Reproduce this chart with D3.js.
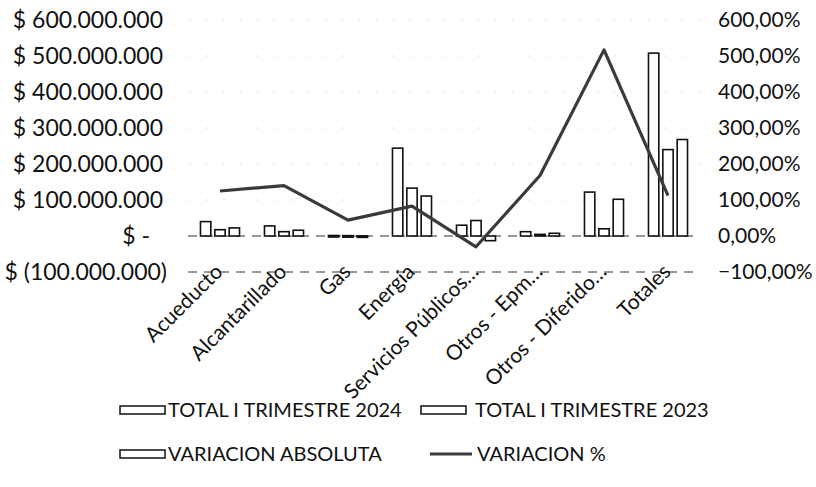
<!DOCTYPE html>
<html>
<head>
<meta charset="utf-8">
<script src="https://cdn.jsdelivr.net/npm/d3@7"></script>
<style>
  body { margin: 0; background: #fff; }
  text { font-family: Lato, "Open Sans", sans-serif; fill: #111; }
</style>
</head>
<body>
<svg id="chart" width="816" height="487"></svg>
<script>
// values (pesos in millions, variation as fraction)
const categories = ["Acueducto", "Alcantarillado", "Gas", "Energía", "Servicios Públicos…", "Otros - Epm…", "Otros - Diferido…", "Totales"];
const total2024 = [40, 28, 1.4, 244, 30, 12, 122, 508];
const total2023 = [17.5, 12, 1.0, 133, 43, 4.5, 20, 240];
const variacionAbs = [22.5, 16, 0.4, 111, -13, 7.5, 102, 268];
const variacionPct = [1.25, 1.40, 0.44, 0.83, -0.30, 1.68, 5.17, 1.12];
const leftTicks = [-100, 0, 100, 200, 300, 400, 500, 600];
const rightTicks = [-1, 0, 1, 2, 3, 4, 5, 6];
const barSeries = ["TOTAL I TRIMESTRE 2024", "TOTAL I TRIMESTRE 2023", "VARIACION ABSOLUTA"];
const lineSeries = "VARIACION %";

const svg = d3.select("#chart");

const x = d3.scaleBand()
    .domain(categories)
    .range([188, 700])
    .paddingInner(0.39)
    .paddingOuter(0.195);

const xs = d3.scaleBand()
    .domain(barSeries)
    .range([0, x.bandwidth()])
    .paddingInner(0.28);

const yL = d3.scaleLinear().domain([-100, 600]).range([272, 20]);
const yR = d3.scaleLinear().domain([-1, 6]).range([272, 20]);

const fmtMoney = v => {
  if (v === 0) return "$ -";
  const s = d3.format(",")(Math.abs(v) * 1e6).replace(/,/g, ".");
  return v < 0 ? "$ (" + s + ")" : "$ " + s;
};
const fmtPct = v => d3.format(".2f")(v * 100).replace(".", ",") + "%";

// gridlines (mostly lost in the scan, zero line stays visible)
svg.append("g")
  .selectAll("line")
  .data(leftTicks)
  .join("line")
    .attr("x1", 188).attr("x2", 700)
    .attr("y1", d => yL(d)).attr("y2", d => yL(d))
    .attr("stroke", d => d <= 0 ? "#333" : "#e6e6e6")
    .attr("stroke-width", d => d <= 0 ? 1.2 : 1)
    .attr("stroke-dasharray", d => d <= 0 ? "9,7" : "3,14");

// left axis labels
svg.append("g")
  .selectAll("text")
  .data(leftTicks)
  .join("text")
    .attr("x", d => d === 0 ? 150 : (d < 0 ? 167 : 163))
    .attr("y", d => yL(d))
    .attr("dy", "0.35em")
    .attr("text-anchor", "end")
    .attr("font-size", 23)
    .text(fmtMoney);

// right axis labels
svg.append("g")
  .selectAll("text")
  .data(rightTicks)
  .join("text")
    .attr("x", 718)
    .attr("y", d => yR(d))
    .attr("dy", "0.35em")
    .attr("font-size", 21)
    .text(fmtPct);

// bars
const rows = categories.map((c, i) => ({
  cat: c,
  vals: [total2024[i], total2023[i], variacionAbs[i]]
}));

svg.append("g")
  .selectAll("g")
  .data(rows)
  .join("g")
    .attr("transform", d => `translate(${x(d.cat)},0)`)
  .selectAll("rect")
  .data(d => d.vals.map((v, j) => ({ key: barSeries[j], v })))
  .join("rect")
    .attr("x", d => xs(d.key))
    .attr("width", xs.bandwidth())
    .attr("y", d => yL(Math.max(0, d.v)))
    .attr("height", d => Math.max(1.5, Math.abs(yL(d.v) - yL(0))))
    .attr("fill", "#fff")
    .attr("stroke", "#111")
    .attr("stroke-width", 1.6);

// percentage line
const line = d3.line()
    .x((d, i) => x(categories[i]) + x.bandwidth() / 2)
    .y(d => yR(d));

svg.append("path")
    .datum(variacionPct)
    .attr("d", line)
    .attr("fill", "none")
    .attr("stroke", "#3a3a3a")
    .attr("stroke-width", 3.2)
    .attr("stroke-linejoin", "round");

// category labels
svg.append("g")
  .selectAll("text")
  .data(categories)
  .join("text")
    .attr("transform", d => `translate(${x(d) + x.bandwidth() / 2 + 4},${273}) rotate(-45)`)
    .attr("text-anchor", "end")
    .attr("font-size", 21)
    .text(d => d);

// legend
const legendItems = [
  { name: barSeries[0], x: 120, tx: 168, y: 410, type: "bar" },
  { name: barSeries[1], x: 421, tx: 475, y: 410, type: "bar" },
  { name: barSeries[2], x: 120, tx: 168, y: 454, type: "bar" },
  { name: lineSeries, x: 430, tx: 477, y: 454, type: "line" }
];

const lg = svg.append("g")
  .selectAll("g")
  .data(legendItems)
  .join("g")
    .attr("transform", d => `translate(0,${d.y})`);

lg.filter(d => d.type === "bar").append("rect")
    .attr("x", d => d.x).attr("y", -4)
    .attr("width", 45).attr("height", 8)
    .attr("fill", "#fff")
    .attr("stroke", "#111")
    .attr("stroke-width", 1.5);

lg.filter(d => d.type === "line").append("line")
    .attr("x1", d => d.x).attr("x2", d => d.x + 42)
    .attr("y1", 0).attr("y2", 0)
    .attr("stroke", "#3a3a3a")
    .attr("stroke-width", 3.2);

lg.append("text")
    .attr("x", d => d.tx)
    .attr("y", 0)
    .attr("dy", "0.35em")
    .attr("font-size", 20)
    .text(d => d.name);
</script>
</body>
</html>
